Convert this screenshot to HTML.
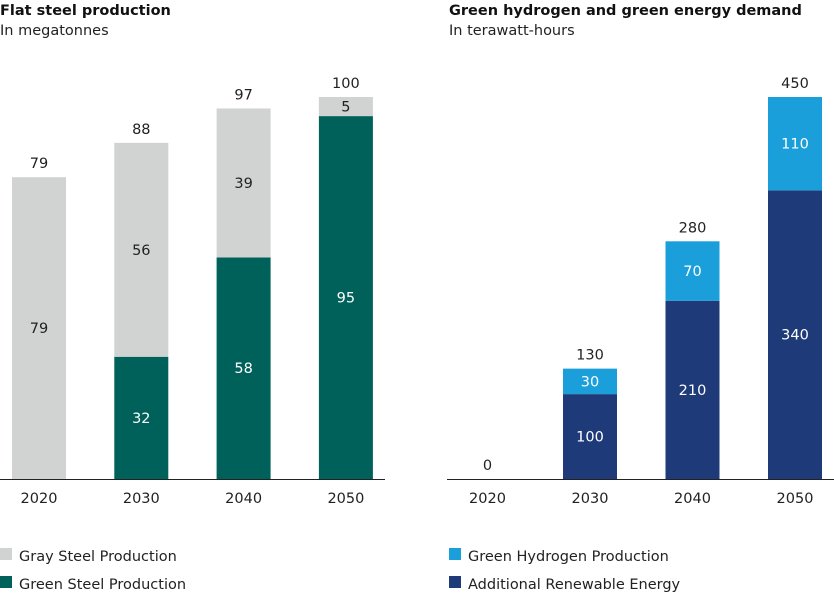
<!DOCTYPE html>
<html><head><meta charset="utf-8"><style>
body{margin:0;background:#fff;font-family:"DejaVu Sans",sans-serif;}
svg text{font-family:"DejaVu Sans",sans-serif;}
</style></head><body>
<svg id="c" width="834" height="599" xmlns="http://www.w3.org/2000/svg">
<text x="0" y="15" font-size="14.5" font-weight="bold" fill="#111">Flat steel production</text>
<text x="0" y="35" font-size="14.5" fill="#222">In megatonnes</text>
<text x="449" y="15" font-size="14.5" font-weight="bold" fill="#111">Green hydrogen and green energy demand</text>
<text x="449" y="35" font-size="14.5" fill="#222">In terawatt-hours</text>
<rect x="0" y="548" width="12" height="12" fill="#d0d3d2"/>
<text x="19" y="561" font-size="14.5" fill="#222">Gray Steel Production</text>
<rect x="0" y="576" width="12" height="12" fill="#00605a"/>
<text x="19" y="589" font-size="14.5" fill="#222">Green Steel Production</text>
<rect x="449" y="548" width="12" height="12" fill="#1a9fdb"/>
<text x="468" y="561" font-size="14.5" fill="#222">Green Hydrogen Production</text>
<rect x="449" y="576" width="12" height="12" fill="#1f3a78"/>
<text x="468" y="589" font-size="14.5" fill="#222">Additional Renewable Energy</text>
</svg>
<script>
const years=["2020","2030","2040","2050"];
const graySteel=[79,56,39,5];
const greenSteel=[0,32,58,95];
const steelTotals=[79,88,97,100];
const renewable=[0,100,210,340];
const hydrogen=[0,30,70,110];
const energyTotals=[0,130,280,450];
const svg=document.getElementById('c');
const NS='http://www.w3.org/2000/svg';
const base=479;
function mk(tag,attrs){const e=document.createElementNS(NS,tag);for(const k in attrs)e.setAttribute(k,attrs[k]);svg.appendChild(e);return e;}
function chart(x0,step,scale,lower,upper,totals,cLow,cUp,prefix,axisX1,axisX2){
  const y=v=>v*scale;
  let l=mk('line',{x1:axisX1,x2:axisX2,y1:base+0.5,y2:base+0.5,stroke:'#222','stroke-width':1});
  
  
  years.forEach((yr,i)=>{
    const x=x0+i*step, cx=x+27;
    let yb=base;
    [[lower[i],cLow,'lower'],[upper[i],cUp,'upper']].forEach(([v,c,nm])=>{
      if(v<=0)return;
      const h=y(v);
      const r=mk('rect',{x:x,y:yb-h,width:54,height:h,fill:c});
      
      
      const t=mk('text',{x:cx,y:yb-h/2+5,'font-size':14.5,'text-anchor':'middle',fill:c==='#d0d3d2'?'#222':'#fff'});
      t.textContent=v;
      
      
      yb-=h;
    });
    const tt=mk('text',{x:cx,y:base-y(totals[i])-9,'font-size':14.5,'text-anchor':'middle',fill:'#222'});
    tt.textContent=totals[i];
    
    
    const tl=mk('text',{x:cx,y:503,'font-size':14.5,'text-anchor':'middle',fill:'#222'});
    tl.textContent=yr;
    
    
  });
}
chart(12,102.3,382/100,greenSteel,graySteel,steelTotals,'#00605a','#d0d3d2','steel',0,385);
chart(460.5,102.5,382/450,renewable,hydrogen,energyTotals,'#1f3a78','#1a9fdb','energy',447,834);
</script>
</body></html>
